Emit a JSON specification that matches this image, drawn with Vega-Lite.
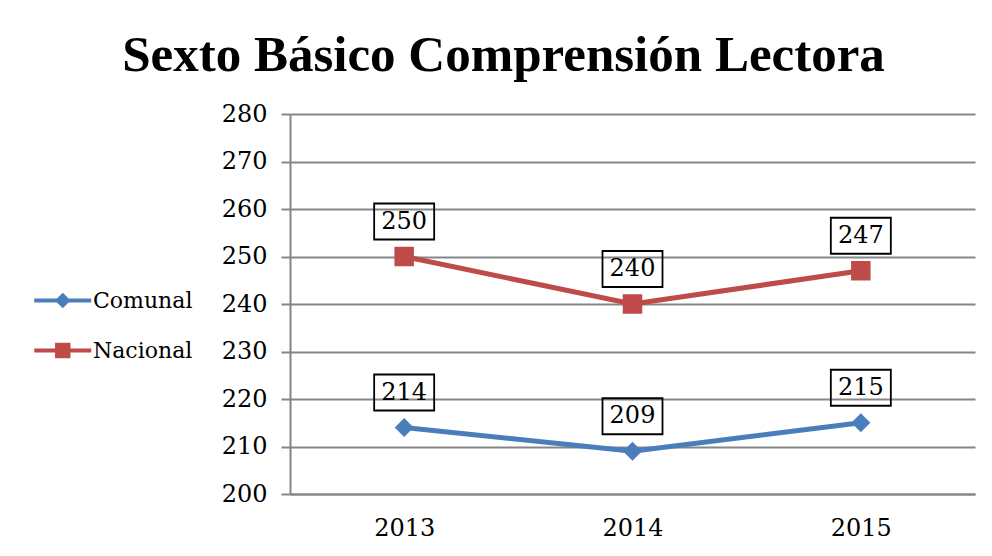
{
  "$schema": "https://vega.github.io/schema/vega-lite/v6.json",
  "width": 685,
  "height": 380,
  "padding": {"left": 32, "top": 30, "right": 17, "bottom": 10},
  "background": "white",
  "title": {
    "text": "Sexto Básico Comprensión Lectora",
    "font": "Liberation Serif",
    "fontSize": 51,
    "fontWeight": "bold",
    "color": "black",
    "frame": "bounds",
    "anchor": "middle",
    "offset": 20
  },
  "config": {
    "view": {"stroke": null},
    "axis": {
      "labelFont": "DejaVu Serif",
      "labelFontSize": 24,
      "labelColor": "black",
      "domainColor": "#868686",
      "domainWidth": 2,
      "tickColor": "#868686",
      "tickWidth": 2,
      "gridColor": "#868686",
      "gridWidth": 2
    }
  },
  "data": {
    "values": [
      {"year": "2013", "serie": "Comunal", "value": 214},
      {"year": "2014", "serie": "Comunal", "value": 209},
      {"year": "2015", "serie": "Comunal", "value": 215},
      {"year": "2013", "serie": "Nacional", "value": 250},
      {"year": "2014", "serie": "Nacional", "value": 240},
      {"year": "2015", "serie": "Nacional", "value": 247}
    ]
  },
  "encoding": {
    "x": {
      "field": "year",
      "type": "ordinal",
      "title": null,
      "axis": {"labelAngle": 0, "ticks": false, "tickSize": 0, "labelPadding": 22, "grid": false}
    },
    "y": {
      "field": "value",
      "type": "quantitative",
      "title": null,
      "scale": {"domain": [200, 280], "nice": false, "zero": false},
      "axis": {"values": [200, 210, 220, 230, 240, 250, 260, 270, 280], "tickSize": 9, "labelPadding": 14, "grid": true}
    }
  },
  "layer": [
    {
      "mark": {"type": "line", "strokeWidth": 5},
      "encoding": {
        "color": {
          "field": "serie",
          "type": "nominal",
          "scale": {"domain": ["Comunal", "Nacional"], "range": ["#4A7EBB", "#BE4B48"]},
          "legend": {
            "title": null,
            "orient": "none",
            "legendX": -258,
            "legendY": 170,
            "symbolSize": 812,
            "symbolStrokeWidth": 4,
            "labelFont": "DejaVu Serif",
            "labelFontSize": 22,
            "labelColor": "black",
            "labelOffset": 28,
            "rowPadding": 20,
            "encode": {
              "symbols": {
                "update": {
                  "shape": {"signal": "datum.value === 'Comunal' ? 'M-1,0H3M1,-0.35L1.35,0L1,0.35L0.65,0Z' : 'M-1,0H3M0.6,-0.4H1.4V0.4H0.6Z'"},
                  "fill": {"scale": "color", "field": "value"},
                  "stroke": {"scale": "color", "field": "value"},
                  "strokeWidth": {"value": 4},
                  "opacity": {"value": 1}
                }
              }
            }
          }
        }
      }
    },
    {
      "transform": [{"filter": "datum.serie === 'Comunal'"}],
      "mark": {"type": "point", "shape": "diamond", "filled": true, "opacity": 1, "size": 360, "color": "#4A7EBB"}
    },
    {
      "transform": [{"filter": "datum.serie === 'Nacional'"}],
      "mark": {"type": "point", "shape": "square", "filled": true, "opacity": 1, "size": 380, "color": "#BE4B48"}
    },
    {
      "mark": {
        "type": "point",
        "shape": "M-1,-0.6H1V0.6H-1Z",
        "size": 3600,
        "filled": false,
        "stroke": "black",
        "strokeWidth": 1.8,
        "opacity": 1,
        "yOffset": -35
      }
    },
    {
      "mark": {
        "type": "text",
        "font": "DejaVu Serif",
        "fontSize": 24,
        "color": "black",
        "yOffset": -35,
        "baseline": "middle"
      },
      "encoding": {"text": {"field": "value", "type": "quantitative"}}
    }
  ]
}
